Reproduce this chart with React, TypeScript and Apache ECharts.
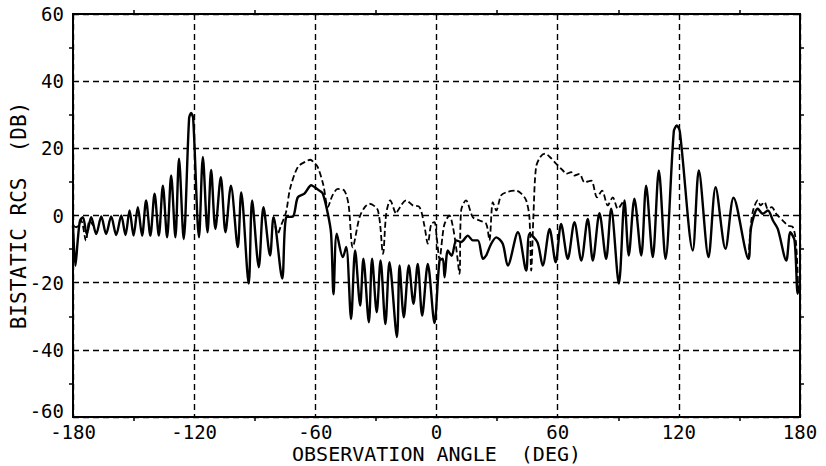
import React, { useEffect, useRef } from "react";
import * as echarts from "echarts";

// Tick values
const xTicks = [-180, -120, -60, 0, 60, 120, 180];
const yTicks = [-60, -40, -20, 0, 20, 40, 60];

// Solid curve: observation angle (deg) and bistatic RCS (dB)
const solidAngles = [
  -180, -178.8, -177.6, -176.5, -175.1, -173.2, -171, -168.5, -166, -163.6, -161.1, -158.6, -156.1, -154, -152,
  -150, -147.9, -145.8, -143.8, -141.7, -139.6, -137.5, -135.5, -133.4, -131.4, -129.3, -127.5, -125.2, -122.5,
  -121.5, -120.5, -117.6, -115.7, -113.4, -111.6, -109.5, -106.8, -104.5, -101.8, -98.4, -96.7, -93, -91.3, -88,
  -85.7, -82.4, -80.7, -76.4, -74.4, -71.1, -68.7, -65.4, -62, -60.5, -58, -56.3, -53.8, -52.2, -51, -49.4, -46.4,
  -44.7, -42.3, -40.3, -37.8, -36.2, -33.5, -31.9, -29.6, -27.7, -25.3, -23.3, -19.6, -18.3, -16.2, -13.7, -11.4,
  -9.3, -7.1, -4.3, -1, 1.5, 3.1, 4, 5.6, 7.5, 9.8, 12.2, 15.5, 18, 20.5, 23, 24.6, 27.1, 29.6, 32.8, 35.3, 40.3,
  44.4, 46.1, 50, 52.6, 56, 59, 61.7, 65, 68.3, 71.7, 74.9, 77.4, 80.7, 84, 86.5, 90.3, 93.1, 95.2, 98, 101.4,
  103.8, 107.1, 110.1, 113.4, 117.5, 119, 120.5, 126.9, 129.9, 134.7, 138.2, 143.1, 147.1, 154.5, 155.8, 159.1,
  161.6, 164.1, 166.6, 169, 173.2, 175.2, 177.3, 178.9, 180,
];
const solidDb = [
  -3, -15, -7, -1.5, -0.5, -5.5, -0.5, -5.5, -0.3, -5.5, -0.3, -5.8, 0, -5.8, 1.5,
  -6, 2.5, -6, 4.5, -6, 6.5, -6, 8.9, -6.5, 11.9, -6.5, 16.9, -7, 29,
  30.5, 29, -6.5, 17.4, -5, 13.6, -4, 11.4, -5, 8.9, -9.4, 6.9, -20.3, 4.5, -15.4,
  2.5, -11.9, -0.5, -18.8, -0.5, -0.3, 5.4, 6.5, 9, 8.5, 7.4, 6.5, 0.5, -5.4, -23.5, -5.4, -12.4,
  -9.4, -30.8, -10.4, -26.8, -12.9, -31.8, -12.9, -28.8, -13.4, -32.3, -13.9, -36.2, -14.9, -30.3, -14.9, -26.3,
  -14.4, -29.8, -14.4, -32, -13.4, -12.9, -18.4, -10.4, -12, -7.4, -7.9, -6, -7.4, -7.4, -12.9, -11.9, -8.4, -6.5, -8.4, -14.9, -5,
  -16.4, -5.4, -8, -14.9, -4, -13.9, -2.5, -12.9, -2, -13.4, -1, -13.4, 0.7, -12.9, 2, -20.3, 4.5, -11.9, 5, -11.9,
  8.9, -12.4, 13.4, -12.9, 25, 26.8, 25, -10.4, 13.4, -12.4, 8.4, -9.9, 5.3, -12.9, -3.5, 2,
  0.5, 1.5, -1.5, -4, -13.4, -5, -7.4, -23.3, -20,
];

// Dashed curve (drawn where it departs from the solid one); null breaks the line
const dashedAngles = [
  -180, -178.4, -176, -173.6, -171.8, -170, -169,
  -80.7, -78.6, -77, -74.5, -72.5, -68.7, -65, -62.5, -61, -58.8, -56, -53.8, -51.5, -48.9, -45.6, -43.5, -41.5,
  -38.1, -35.5, -33.2, -29, -26.5, -24.9, -22.9, -19.9, -19.1, -15, -11.7, -8.4, -6, -4.3, -2.6, -1, 0.1, 1.5, 3,
  4, 6.4, 8, 9.7, 11.4, 12.2, 14.6, 18, 21.3, 24.6, 26.2, 27.9, 29.6, 32, 35, 39.5, 42, 44.4, 46, 46.9, 48, 49.3,
  51.5, 53.8, 56, 59.3, 62.6, 64.2, 66.7, 68.3, 70.8, 73.3, 76.6, 79.5, 82, 84.8, 87.3, 89.8, 92.3, 93.1, 94,
  154.5, 155.8, 157, 159.1, 160.5, 162.4, 164, 166, 168.2, 171.5, 174, 176.5, 178, 179,
];
const dashedDb = [
  -3, -3.5, -1.5, -7.5, -1.5, -3, null,
  -0.5, -5.4, -3, 1, 8, 14.4, 16, 16.6, 16, 14.4, 9, 2.5, 6, 7.9, 7.4, 3, -9.5,
  -0.5, 2.5, 3.5, 1.5, -11.4, 0.5, 4.5, 0.5, 1.5, 4.5, 3, 2.5, -3, -8.4, -2.5, -2, -6.5, -13, -6,
  -2.5, 0, -3, -9.4, -17.4, 1.5, 4.5, -0.5, -1.5, -2.5, -7.4, 4, 1.5, 6, 7, 7.4, 6.5, 4.5, -0.5, -16.4, 0, 14.4,
  17.5, 18.4, 17.5, 15.4, 13.4, 12.4, 12.9, 11.9, 12.4, 9.9, 10.4, 5.4, 7.4, 3, 5.4, 2, 4, 4.5, null,
  -12.9, -2, 2, 4.5, 3, 4, 2, 2.5, 0.5, -1.5, -3, -3.5, -8, -20,
];

const FONT = "'DejaVu Sans Mono', 'Liberation Mono', monospace";

export default function App() {
  const ref = useRef<HTMLDivElement>(null);
  useEffect(() => {
    if (!ref.current) return;
    const chart = echarts.init(ref.current, null, { renderer: "svg" });
    const solidData = solidAngles.map((a, i) => [a, solidDb[i]]);
    const dashedData = dashedAngles.map((a, i) => [a, dashedDb[i]]);
    const gridDash = { color: "#000", width: 1.4, type: [6, 4] as number[] };
    const labelStyle = { color: "#000", fontFamily: FONT, fontSize: 19 };
    const frameLine = { show: true, onZero: false, lineStyle: { color: "#000", width: 2 } };
    const minor = { show: true, splitNumber: 2, length: 4, lineStyle: { color: "#000", width: 1.5 } };
    chart.setOption({
      animation: false,
      backgroundColor: "#fff",
      grid: {
        left: 73, right: 26, top: 14, bottom: 49,
        outerBoundsMode: "none",
        containLabel: false,
        show: true, borderColor: "#000", borderWidth: 2, backgroundColor: "transparent",
      },
      xAxis: [
        {
          type: "value",
          min: xTicks[0],
          max: xTicks[xTicks.length - 1],
          interval: 60,
          position: "bottom",
          name: "OBSERVATION ANGLE  (DEG)",
          nameLocation: "middle",
          nameGap: 27,
          nameMoveOverlap: false,
          nameTextStyle: { color: "#000", fontFamily: FONT, fontSize: 20, verticalAlign: "top", lineHeight: 20 },
          axisLine: frameLine,
          axisTick: { show: false },
          minorTick: minor,
          axisLabel: { ...labelStyle, margin: 5, lineHeight: 19 },
          splitLine: { show: true, lineStyle: gridDash },
        },
        {
          type: "value",
          min: xTicks[0],
          max: xTicks[xTicks.length - 1],
          interval: 60,
          position: "top",
          axisLine: frameLine,
          axisTick: { show: false },
          minorTick: minor,
          axisLabel: { show: false },
          splitLine: { show: false },
        },
      ],
      yAxis: [
        {
          type: "value",
          min: yTicks[0],
          max: yTicks[yTicks.length - 1],
          interval: 20,
          position: "left",
          name: "BISTATIC RCS  (DB)",
          nameLocation: "middle",
          nameGap: 44,
          nameMoveOverlap: false,
          nameTextStyle: { color: "#000", fontFamily: FONT, fontSize: 21 },
          axisLine: frameLine,
          axisTick: { show: false },
          minorTick: minor,
          axisLabel: {
            ...labelStyle,
            margin: 9,
            formatter: (v: number) => (v === yTicks[0] ? "{low|" + v + "}" : String(v)),
            rich: { low: { ...labelStyle, padding: [0, 0, 12, 0] } },
          },
          splitLine: { show: true, lineStyle: gridDash },
        },
        {
          type: "value",
          min: yTicks[0],
          max: yTicks[yTicks.length - 1],
          interval: 20,
          position: "right",
          axisLine: frameLine,
          axisTick: { show: false },
          minorTick: minor,
          axisLabel: { show: false },
          splitLine: { show: false },
        },
      ],
      series: [
        {
          type: "line",
          xAxisIndex: 0,
          yAxisIndex: 0,
          data: dashedData,
          showSymbol: false,
          smooth: 0.3,
          connectNulls: false,
          lineStyle: { color: "#000", width: 1.8, type: [6, 3] },
          z: 2,
        },
        {
          type: "line",
          xAxisIndex: 0,
          yAxisIndex: 0,
          data: solidData,
          showSymbol: false,
          smooth: 0.3,
          lineStyle: { color: "#000", width: 2.4 },
          z: 3,
        },
      ],
    });
    return () => chart.dispose();
  }, []);
  return (
    <div
      ref={ref}
      style={{ position: "fixed", left: 0, top: 0, width: 826, height: 466, background: "#fff" }}
    />
  );
}
